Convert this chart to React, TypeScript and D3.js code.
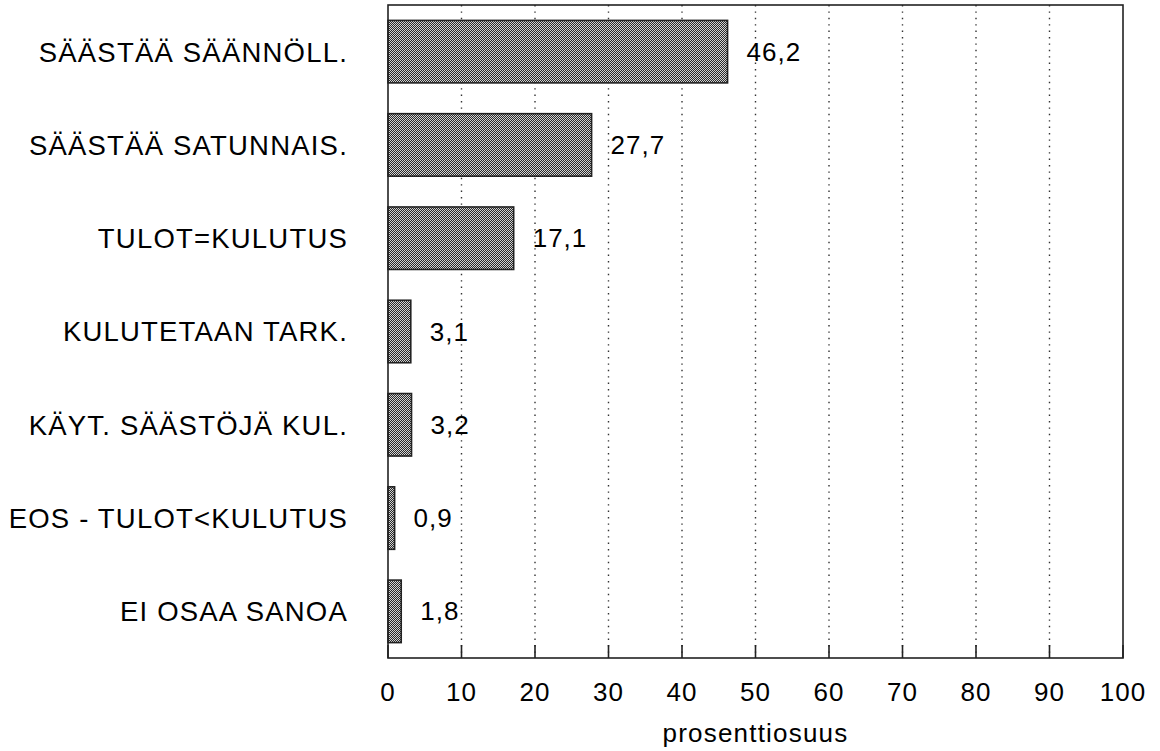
import React, { useEffect, useRef } from 'react';
import * as d3 from 'd3';

const categories = [
  'SÄÄSTÄÄ SÄÄNNÖLL.',
  'SÄÄSTÄÄ SATUNNAIS.',
  'TULOT=KULUTUS',
  'KULUTETAAN TARK.',
  'KÄYT. SÄÄSTÖJÄ KUL.',
  'EOS - TULOT<KULUTUS',
  'EI OSAA SANOA',
];
const values = [46.2, 27.7, 17.1, 3.1, 3.2, 0.9, 1.8];
const valueLabels = ['46,2', '27,7', '17,1', '3,1', '3,2', '0,9', '1,8'];
const xTicks = [0, 10, 20, 30, 40, 50, 60, 70, 80, 90, 100];
const xTitle = 'prosenttiosuus';

const W = 1160;
const H = 751;

export default function App() {
  const svgRef = useRef<SVGSVGElement>(null);

  useEffect(() => {
    if (!svgRef.current) return;
    const svg = d3.select(svgRef.current);
    svg.selectAll('*').remove();

    const margin = { top: 5, right: 37, bottom: 93, left: 388 };
    const innerW = W - margin.left - margin.right;
    const innerH = H - margin.top - margin.bottom;
    const font = '"Liberation Sans", Arial, Helvetica, sans-serif';

    // checker fill like the printed raster
    const defs = svg.append('defs');
    const pat = defs.append('pattern')
      .attr('id', 'checker')
      .attr('width', 2)
      .attr('height', 2)
      .attr('patternUnits', 'userSpaceOnUse');
    pat.append('rect').attr('width', 2).attr('height', 2).attr('fill', '#d2d2d2');
    pat.append('rect').attr('x', 0).attr('y', 0).attr('width', 1).attr('height', 1).attr('fill', '#2a2a2a');
    pat.append('rect').attr('x', 1).attr('y', 1).attr('width', 1).attr('height', 1).attr('fill', '#2a2a2a');

    const g = svg.append('g').attr('transform', `translate(${margin.left},${margin.top})`);

    const x = d3.scaleLinear().domain([0, 100]).range([0, innerW]);
    const y = d3.scaleBand()
      .domain(categories)
      .range([0, innerH])
      .paddingInner(0.33)
      .paddingOuter(0.165);

    // dotted grid
    g.selectAll('.grid')
      .data(xTicks.filter(t => t > 0 && t < 100))
      .enter()
      .append('line')
      .attr('x1', d => x(d))
      .attr('x2', d => x(d))
      .attr('y1', 0)
      .attr('y2', innerH)
      .attr('stroke', '#333')
      .attr('stroke-width', 1.4)
      .attr('stroke-dasharray', '1.4,5');

    // bars
    g.selectAll('.bar')
      .data(values)
      .enter()
      .append('rect')
      .attr('x', 0)
      .attr('y', (_, i) => y(categories[i])!)
      .attr('width', d => x(d))
      .attr('height', y.bandwidth())
      .attr('fill', 'url(#checker)')
      .attr('stroke', '#222')
      .attr('stroke-width', 1.6);

    // value labels
    g.selectAll('.val')
      .data(values)
      .enter()
      .append('text')
      .attr('x', d => x(d) + 19)
      .attr('y', (_, i) => y(categories[i])! + y.bandwidth() / 2)
      .attr('dy', '0.35em')
      .style('font-family', font)
      .style('font-size', '26px')
      .style('letter-spacing', '1px')
      .style('fill', '#000')
      .text((_, i) => valueLabels[i]);

    // category labels
    g.selectAll('.cat')
      .data(categories)
      .enter()
      .append('text')
      .attr('x', -40)
      .attr('y', d => y(d)! + y.bandwidth() / 2)
      .attr('dy', '0.36em')
      .attr('text-anchor', 'end')
      .style('font-family', font)
      .style('font-size', '27.5px')
      .style('letter-spacing', '1.2px')
      .style('fill', '#000')
      .text(d => d);

    // frame
    g.append('rect')
      .attr('width', innerW)
      .attr('height', innerH)
      .attr('fill', 'none')
      .attr('stroke', '#222')
      .attr('stroke-width', 1.6);

    // inner tick marks
    g.selectAll('.tick')
      .data(xTicks)
      .enter()
      .append('line')
      .attr('x1', d => x(d))
      .attr('x2', d => x(d))
      .attr('y1', innerH)
      .attr('y2', innerH - 13)
      .attr('stroke', '#222')
      .attr('stroke-width', 1.6);

    // tick labels
    g.selectAll('.tl')
      .data(xTicks)
      .enter()
      .append('text')
      .attr('x', d => x(d))
      .attr('y', innerH + 43)
      .attr('text-anchor', 'middle')
      .style('font-family', font)
      .style('font-size', '26px')
      .style('letter-spacing', '1px')
      .style('fill', '#000')
      .text(d => String(d));

    // axis title
    g.append('text')
      .attr('x', innerW / 2)
      .attr('y', innerH + 84)
      .attr('text-anchor', 'middle')
      .style('font-family', font)
      .style('font-size', '26px')
      .style('letter-spacing', '1.2px')
      .style('fill', '#000')
      .text(xTitle);
  }, []);

  return (
    <svg
      ref={svgRef}
      width={W}
      height={H}
      style={{ position: 'absolute', left: 0, top: 0, background: '#fff' }}
    />
  );
}
